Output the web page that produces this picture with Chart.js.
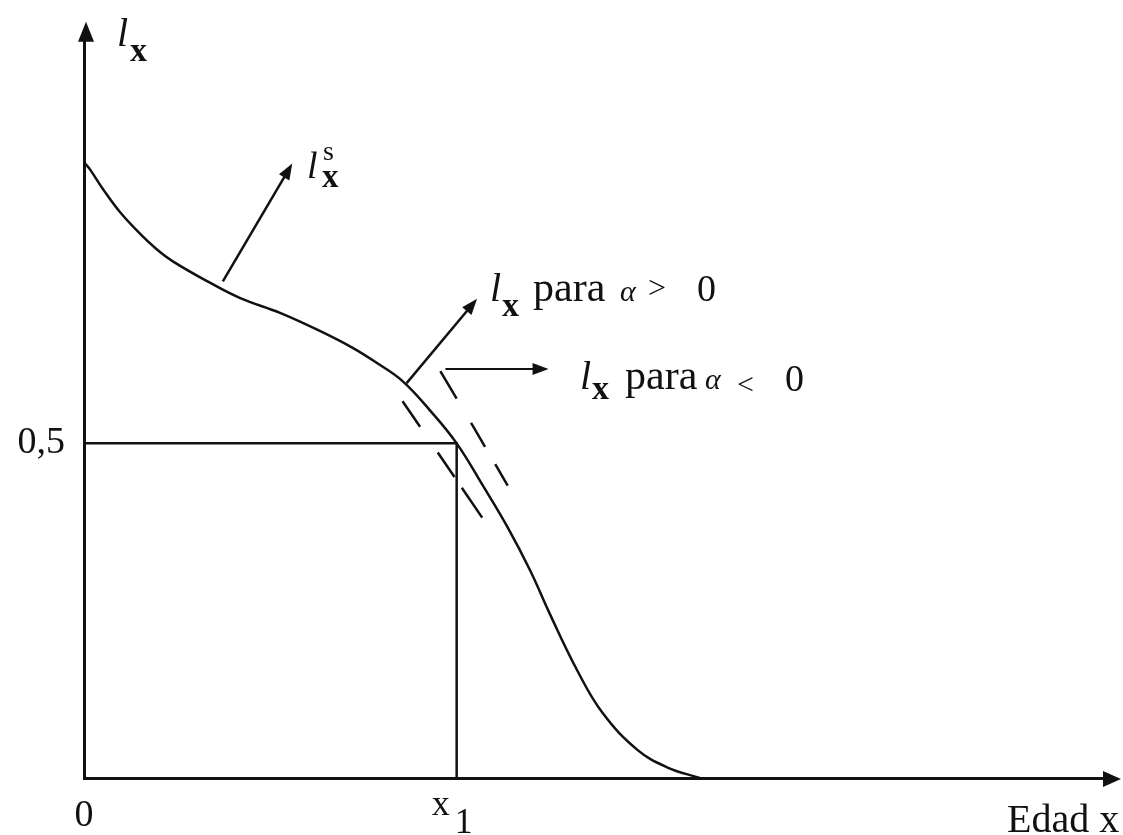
<!DOCTYPE html>
<html lang="es">
<head>
<meta charset="utf-8">
<title>l(x) — curva de supervivencia</title>
<script src="https://cdn.jsdelivr.net/npm/chart.js@4/dist/chart.umd.min.js"></script>
<style>
  html, body { margin: 0; padding: 0; background: #fff; }
  canvas { display: block; }
</style>
</head>
<body>
<canvas id="lx-chart" width="1123" height="835"></canvas>
<script>
// Curva estándar l(x)^s (edad en unidades arbitrarias 0-100)
const AGE = [0, 0.6, 1.9, 3.5, 5.5, 7.2, 8.7, 12.1, 15.3, 19.2, 23.1, 26.4, 28.7,
             31.2, 33.9, 36.5, 39.1, 41.4, 43.7, 45.6, 48.3, 50.8, 54.2, 57.1, 60.3];
const LX  = [0.92, 0.909, 0.879, 0.846, 0.813, 0.789, 0.772, 0.742, 0.717, 0.695, 0.668, 0.642, 0.620,
             0.593, 0.549, 0.500, 0.436, 0.377, 0.310, 0.246, 0.161, 0.097, 0.042, 0.016, 0.0];

// Tramos discontinuos: l(x) para alfa > 0 (izquierda) y alfa < 0 (derecha)
const ALPHA_POS_AGE = [31.2, 35.2, 39.0];
const ALPHA_POS_LX  = [0.563, 0.474, 0.389];
const ALPHA_NEG_AGE = [34.9, 38.2, 41.5];
const ALPHA_NEG_LX  = [0.608, 0.523, 0.437];

// Mediana: l(x1) = 0,5
const X1 = 36.5;
const HALF = 0.5;

// Ticks
const X_TICKS = [0, X1];
const X_TICK_LABELS = ['0', 'x1'];
const Y_TICKS = [HALF];
const Y_TICK_LABELS = ['0,5'];

// Flechas de anotación (desde, hasta) en unidades de datos
const ARROW_FROM_X = [13.6, 31.6, 35.4];
const ARROW_FROM_Y = [0.742, 0.590, 0.611];
const ARROW_TO_X   = [20.4, 38.5, 45.5];
const ARROW_TO_Y   = [0.918, 0.716, 0.611];

const SERIF = '"Liberation Serif", "Times New Roman", serif';
const INK = '#111';

// Textos: ancla en datos + partes con desplazamiento en px
const LABELS = [
  { x: 3.23, y: 1.093, parts: [
      { t: 'l', f: 'italic 40px', dx: 0,  dy: 0 },
      { t: 'x', f: 'bold 34px',   dx: 13, dy: 15 } ] },
  { x: 21.84, y: 0.897, parts: [
      { t: 'l', f: 'italic 38px', dx: 0,  dy: 0 },
      { t: 's', f: '28px',        dx: 16, dy: -18 },
      { t: 'x', f: 'bold 33px',   dx: 15, dy: 9 } ] },
  { x: 39.77, y: 0.7125, parts: [
      { t: 'l',    f: 'italic 40px', dx: 0,   dy: 0 },
      { t: 'x',    f: 'bold 34px',   dx: 12,  dy: 15 },
      { t: 'para', f: '42px',        dx: 43,  dy: 0 },
      { t: 'α',    f: 'italic 30px', dx: 130, dy: 0 },
      { t: '>',    f: '32px',        dx: 158, dy: -3 },
      { t: '0',    f: '38px',        dx: 207, dy: 0 } ] },
  { x: 48.58, y: 0.5813, parts: [
      { t: 'l',    f: 'italic 40px', dx: 0,   dy: 0 },
      { t: 'x',    f: 'bold 34px',   dx: 12,  dy: 10 },
      { t: 'para', f: '42px',        dx: 45,  dy: 0 },
      { t: 'α',    f: 'italic 30px', dx: 125, dy: 0 },
      { t: '<',    f: '30px',        dx: 157, dy: 5 },
      { t: '0',    f: '38px',        dx: 205, dy: 2 } ] },
  { x: 90.4, y: -0.0805, parts: [
      { t: 'Edad x', f: '40px', dx: 0, dy: 0 } ] },
];

function toPoints(xs, ys) {
  return xs.map((x, i) => ({ x, y: ys[i] }));
}

function arrowHead(ctx, x0, y0, x1, y1, len, half) {
  const a = Math.atan2(y1 - y0, x1 - x0);
  ctx.beginPath();
  ctx.moveTo(x1, y1);
  ctx.lineTo(x1 - len * Math.cos(a) + half * Math.sin(a), y1 - len * Math.sin(a) - half * Math.cos(a));
  ctx.lineTo(x1 - len * Math.cos(a) - half * Math.sin(a), y1 - len * Math.sin(a) + half * Math.cos(a));
  ctx.closePath();
  ctx.fill();
}

const annotations = {
  id: 'annotations',
  afterDraw(chart) {
    const { ctx, scales: { x, y }, chartArea: area } = chart;
    ctx.save();
    ctx.fillStyle = INK;
    ctx.strokeStyle = INK;

    // puntas de los ejes
    arrowHead(ctx, area.left + 2, area.top + 10, area.left + 2, area.top - 20, 20, 8);
    arrowHead(ctx, area.right - 10, area.bottom + 1, area.right + 16, area.bottom + 1, 18, 8);

    // etiquetas del eje x (con subíndice: "x1" -> x + 1 rebajado)
    ctx.textBaseline = 'alphabetic';
    X_TICKS.forEach((v, i) => {
      const px = x.getPixelForValue(v);
      const label = X_TICK_LABELS[i];
      ctx.font = `38px ${SERIF}`;
      if (label.length === 1) {
        ctx.textAlign = 'center';
        ctx.fillText(label, px, area.bottom + 48);
      } else {
        ctx.textAlign = 'left';
        ctx.font = `36px ${SERIF}`;
        ctx.fillText(label[0], px - 25, area.bottom + 37);
        ctx.fillText(label.slice(1), px - 2, area.bottom + 55);
      }
    });

    // flechas de anotación
    ARROW_FROM_X.forEach((fx, i) => {
      const x0 = x.getPixelForValue(fx), y0 = y.getPixelForValue(ARROW_FROM_Y[i]);
      const x1 = x.getPixelForValue(ARROW_TO_X[i]), y1 = y.getPixelForValue(ARROW_TO_Y[i]);
      const a = Math.atan2(y1 - y0, x1 - x0);
      ctx.lineWidth = i === 2 ? 2 : 2.5;
      ctx.beginPath();
      ctx.moveTo(x0, y0);
      ctx.lineTo(x1 - 10 * Math.cos(a), y1 - 10 * Math.sin(a));
      ctx.stroke();
      arrowHead(ctx, x0, y0, x1, y1, 16, 6);
    });

    // textos
    ctx.textAlign = 'left';
    LABELS.forEach(lab => {
      const px = x.getPixelForValue(lab.x), py = y.getPixelForValue(lab.y);
      lab.parts.forEach(p => {
        ctx.font = `${p.f} ${SERIF}`;
        ctx.fillText(p.t, px + p.dx, py + p.dy);
      });
    });
    ctx.restore();
  }
};

new Chart(document.getElementById('lx-chart'), {
  type: 'line',
  data: {
    datasets: [
      {
        label: 'l(x) estándar',
        data: toPoints(AGE, LX),
        borderColor: INK,
        borderWidth: 2.5,
        pointRadius: 0,
        tension: 0.4,
      },
      {
        label: 'l(x) para alfa > 0',
        data: toPoints(ALPHA_POS_AGE, ALPHA_POS_LX),
        borderColor: INK,
        borderWidth: 2.5,
        borderDash: [31, 31, 30, 13, 40, 40],
        pointRadius: 0,
        tension: 0.3,
      },
      {
        label: 'l(x) para alfa < 0',
        data: toPoints(ALPHA_NEG_AGE, ALPHA_NEG_LX),
        borderColor: INK,
        borderWidth: 2.5,
        borderDash: [32, 28, 28, 20, 30, 40],
        pointRadius: 0,
        tension: 0.3,
      },
      {
        label: 'mediana',
        data: toPoints([0, X1, X1], [HALF, HALF, 0]),
        borderColor: INK,
        borderWidth: 2.5,
        pointRadius: 0,
        tension: 0,
        clip: false,
      },
    ],
  },
  options: {
    responsive: false,
    animation: false,
    layout: { padding: { top: 40, right: 18, left: 0, bottom: 0 } },
    plugins: { legend: { display: false }, tooltip: { enabled: false } },
    scales: {
      x: {
        type: 'linear',
        min: 0,
        max: 100,
        afterBuildTicks: (axis) => { axis.ticks = X_TICKS.map(v => ({ value: v })); },
        afterFit: (axis) => { axis.height = 57; },
        grid: { display: false, drawTicks: false },
        border: { display: true, color: INK, width: 3 },
        ticks: { display: false },
      },
      y: {
        type: 'linear',
        min: 0,
        max: 1.1,
        afterBuildTicks: (axis) => { axis.ticks = Y_TICKS.map(v => ({ value: v })); },
        afterFit: (axis) => { axis.width = 84; },
        grid: { display: false, drawTicks: false },
        border: { display: true, color: INK, width: 3 },
        ticks: {
          padding: 19,
          color: INK,
          font: { family: SERIF, size: 38 },
          callback: (v, i) => Y_TICK_LABELS[i],
        },
      },
    },
  },
  plugins: [annotations],
});
</script>
</body>
</html>
